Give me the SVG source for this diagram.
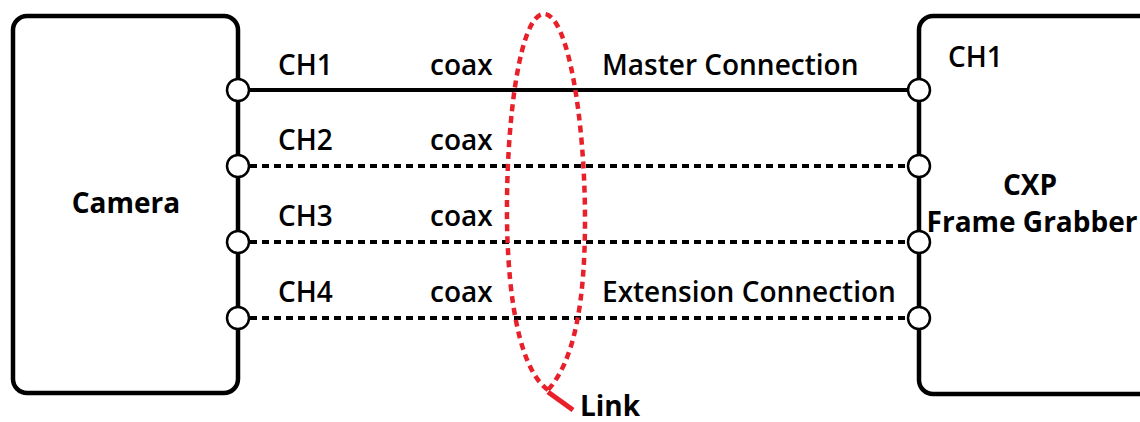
<svg xmlns="http://www.w3.org/2000/svg" width="1140" height="422" viewBox="0 0 1140 422">
<style>
.box{fill:#fff;stroke:#000;stroke-width:4.5}
.port{fill:#fff;stroke:#000;stroke-width:2.5}
.solid{stroke:#000;stroke-width:4;fill:none}
.dash{stroke:#000;stroke-width:4;fill:none;stroke-dasharray:7 5}
.lbl{font-family:"Open Sans","Liberation Sans",sans-serif;font-weight:600;font-size:28px;fill:#000}
.bold{font-family:"Open Sans","Liberation Sans",sans-serif;font-weight:700;font-size:28px;fill:#000}
.link{fill:none;stroke:#e8202a;stroke-width:4.5;stroke-dasharray:7 5}
</style>
<rect width="1140" height="422" fill="#fff"/>
<g id="camera">
<rect class="box" x="13" y="16" width="225" height="377" rx="14"/>
<text class="bold" x="126" y="213" text-anchor="middle">Camera</text>
</g>
<g id="grabber">
<rect class="box" x="919" y="16" width="240" height="378" rx="14"/>
<text class="lbl" x="948" y="67">CH1</text>
<text class="bold" x="1030" y="195" text-anchor="middle">CXP</text>
<text class="bold" x="1032" y="232" text-anchor="middle">Frame Grabber</text>
</g>
<g id="connectors">
<line class="solid" x1="238" y1="90" x2="919" y2="90"/>
<line class="dash" x1="250" y1="166" x2="908" y2="166"/>
<line class="dash" x1="250" y1="242" x2="908" y2="242"/>
<line class="dash" x1="250" y1="318" x2="908" y2="318"/>
</g>
<g id="ports">
<circle class="port" cx="238" cy="90" r="11"/>
<circle class="port" cx="238" cy="166" r="11"/>
<circle class="port" cx="238" cy="242" r="11"/>
<circle class="port" cx="238" cy="318" r="11"/>
<circle class="port" cx="919" cy="90" r="11"/>
<circle class="port" cx="919" cy="166" r="11"/>
<circle class="port" cx="919" cy="242" r="11"/>
<circle class="port" cx="919" cy="318" r="11"/>
</g>
<g id="labels">
<text class="lbl" x="278" y="75">CH1</text>
<text class="lbl" x="278" y="150">CH2</text>
<text class="lbl" x="278" y="226">CH3</text>
<text class="lbl" x="278" y="302">CH4</text>
<text class="lbl" x="430" y="75">coax</text>
<text class="lbl" x="430" y="150">coax</text>
<text class="lbl" x="430" y="226">coax</text>
<text class="lbl" x="430" y="302">coax</text>
<text class="lbl" x="602" y="75">Master Connection</text>
<text class="lbl" x="602" y="302">Extension Connection</text>
</g>
<g id="link">
<path class="link" d="M548 390 C520 370 508 300 507 220 C506 120 520 14 544 14 C568 14 585 120 585 220 C585 300 575 360 548 390"/>
<line x1="548" y1="392" x2="573" y2="410" stroke="#e8202a" stroke-width="5"/>
<text class="bold" x="580" y="416">Link</text>
</g>
</svg>
